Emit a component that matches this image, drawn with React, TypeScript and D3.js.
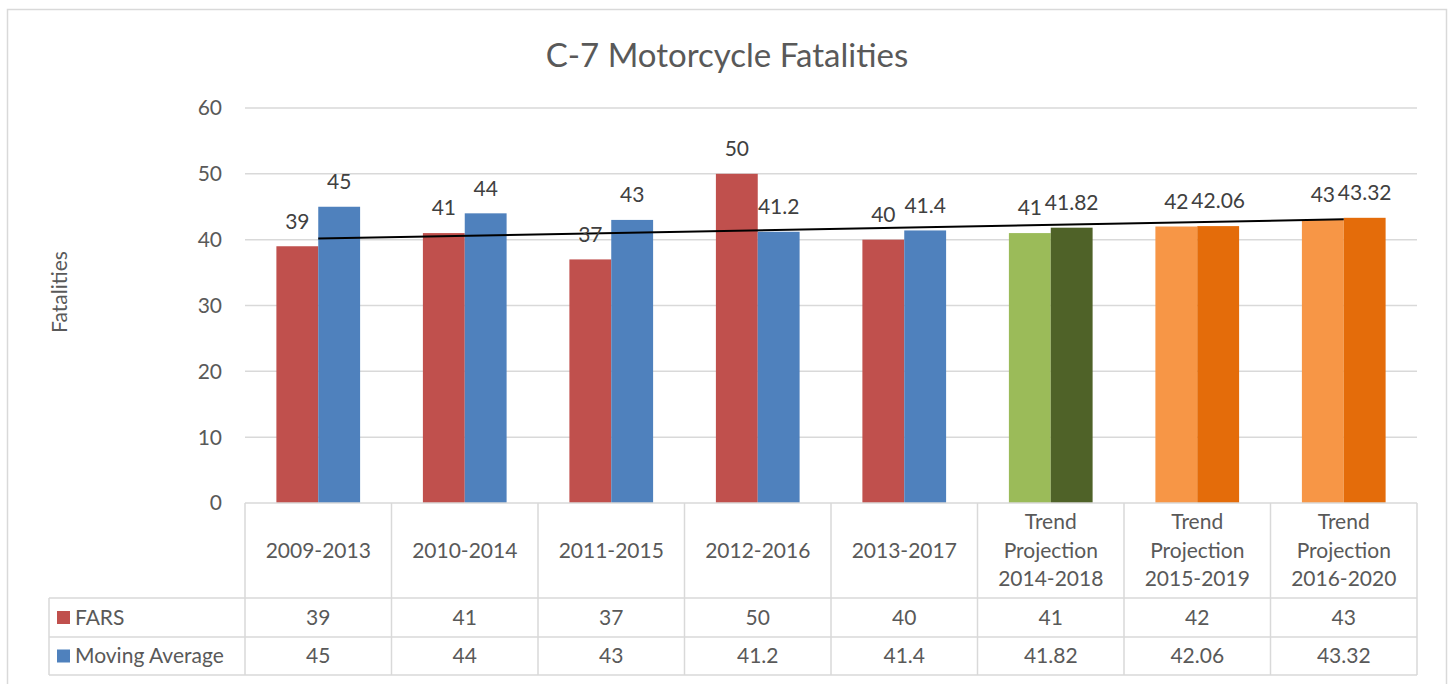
import React from 'react';
import * as d3 from 'd3';

// chart data
const categories = [
  ['2009-2013'],
  ['2010-2014'],
  ['2011-2015'],
  ['2012-2016'],
  ['2013-2017'],
  ['Trend', 'Projection', '2014-2018'],
  ['Trend', 'Projection', '2015-2019'],
  ['Trend', 'Projection', '2016-2020'],
];
const fars = [39, 41, 37, 50, 40, 41, 42, 43];
const movingAverage = [45, 44, 43, 41.2, 41.4, 41.82, 42.06, 43.32];
const farsColors = ['#C0504D', '#C0504D', '#C0504D', '#C0504D', '#C0504D', '#9BBB59', '#F79646', '#F79646'];
const maColors = ['#4F81BD', '#4F81BD', '#4F81BD', '#4F81BD', '#4F81BD', '#4F6228', '#E46C0A', '#E46C0A'];
const yTicks = [0, 10, 20, 30, 40, 50, 60];
const seriesNames = ['FARS', 'Moving Average'];

const FONT = 'Lato, "Noto Sans", sans-serif';
const GRID = '#d9d9d9';
const TEXT = '#595959';
const FS = 21;

export default function App() {
  const width = 1450;
  const height = 684;
  const plot = { left: 245, right: 1417, top: 108, bottom: 503 };
  const rows = { header: 598, fars: 637, ma: 675 };
  const labelCol = 49;

  const x = d3.scaleBand<number>()
    .domain(d3.range(categories.length))
    .range([plot.left, plot.right]);

  const inner = d3.scaleBand<string>()
    .domain(['fars', 'ma'])
    .range([0, x.bandwidth()])
    .paddingInner(0)
    .paddingOuter(0.75);

  const y = d3.scaleLinear()
    .domain([0, 60])
    .range([plot.bottom, plot.top]);

  // linear trendline over the FARS series (x = 1..n)
  const n = fars.length;
  const xs = d3.range(1, n + 1);
  const mx = d3.mean(xs) as number;
  const my = d3.mean(fars) as number;
  const slope = d3.sum(xs, (v, i) => (v - mx) * (fars[i] - my)) / d3.sum(xs, v => (v - mx) ** 2);
  const icpt = my - slope * mx;
  const trend = [0, n - 1].map(i => [
    (x(i) as number) + x.bandwidth() / 2,
    y(icpt + slope * (i + 1)),
  ] as [number, number]);
  const trendLine = d3.line();

  const fmt = (v: number) => String(v);
  const bw = inner.bandwidth();

  return (
    <svg width={width} height={height} style={{ position: 'absolute', left: 0, top: 0 }} fontFamily={FONT}>
      <rect x={0} y={0} width={width} height={height} fill="#fff" />
      <rect x={7.5} y={9.5} width={1439} height={720} fill="none" stroke={GRID} strokeWidth={1.5} />

      <text x={727} y={67} textAnchor="middle" fontSize={33} fill={TEXT}>C-7 Motorcycle Fatalities</text>

      <text transform="translate(67,292) rotate(-90)" textAnchor="middle" fontSize={FS} fill={TEXT}>Fatalities</text>

      {yTicks.map(t => (
        <g key={t}>
          {t > 0 && <line x1={plot.left} x2={plot.right} y1={y(t)} y2={y(t)} stroke={GRID} strokeWidth={1.5} />}
          <text x={222} y={y(t)} dy="0.35em" textAnchor="end" fontSize={FS} fill={TEXT}>{t}</text>
        </g>
      ))}

      {categories.map((c, i) => {
        const x0 = x(i) as number;
        const xf = x0 + (inner('fars') as number);
        const xm = x0 + (inner('ma') as number);
        return (
          <g key={i}>
            <rect x={xf} y={y(fars[i])} width={bw} height={y(0) - y(fars[i])} fill={farsColors[i]} />
            <rect x={xm} y={y(movingAverage[i])} width={bw} height={y(0) - y(movingAverage[i])} fill={maColors[i]} />
          </g>
        );
      })}

      <path d={trendLine(trend) as string} stroke="#000" strokeWidth={2} fill="none" />

      {categories.map((c, i) => {
        const x0 = x(i) as number;
        const xf = x0 + (inner('fars') as number) + bw / 2;
        const xm = x0 + (inner('ma') as number) + bw / 2;
        return (
          <g key={i} fontSize={FS} fill="#404040" textAnchor="middle">
            <text x={xf} y={y(fars[i]) - 25} dy="0.35em">{fmt(fars[i])}</text>
            <text x={xm} y={y(movingAverage[i]) - 25} dy="0.35em">{fmt(movingAverage[i])}</text>
          </g>
        );
      })}

      {/* data table */}
      <g stroke={GRID} strokeWidth={1.5} fill="none">
        <line x1={plot.left} x2={plot.right} y1={plot.bottom} y2={plot.bottom} />
        <line x1={labelCol} x2={plot.right} y1={rows.header} y2={rows.header} />
        <line x1={labelCol} x2={plot.right} y1={rows.fars} y2={rows.fars} />
        <line x1={labelCol} x2={plot.right} y1={rows.ma} y2={rows.ma} />
        <line x1={labelCol} x2={labelCol} y1={rows.header} y2={rows.ma} />
        {d3.range(categories.length + 1).map(i => {
          const xv = i < categories.length ? (x(i) as number) : plot.right;
          return <line key={i} x1={xv} x2={xv} y1={plot.bottom} y2={rows.ma} />;
        })}
      </g>

      {categories.map((c, i) => {
        const cx = (x(i) as number) + x.bandwidth() / 2;
        const mid = (plot.bottom + rows.header) / 2;
        const lh = 28.5;
        return (
          <g key={i} fontSize={FS} fill={TEXT} textAnchor="middle">
            {c.map((line, j) => (
              <text key={j} x={cx} y={mid + (j - (c.length - 1) / 2) * lh} dy="0.35em">{line}</text>
            ))}
            <text x={cx} y={(rows.header + rows.fars) / 2} dy="0.35em">{fmt(fars[i])}</text>
            <text x={cx} y={(rows.fars + rows.ma) / 2} dy="0.35em">{fmt(movingAverage[i])}</text>
          </g>
        );
      })}

      {seriesNames.map((s, k) => {
        const top = k === 0 ? rows.header : rows.fars;
        const bottom = k === 0 ? rows.fars : rows.ma;
        const cy = (top + bottom) / 2;
        return (
          <g key={s}>
            <rect x={57} y={cy - 6.5} width={13} height={13} fill={k === 0 ? farsColors[0] : maColors[0]} />
            <text x={75} y={cy} dy="0.35em" fontSize={FS} fill={TEXT}>{s}</text>
          </g>
        );
      })}
    </svg>
  );
}
